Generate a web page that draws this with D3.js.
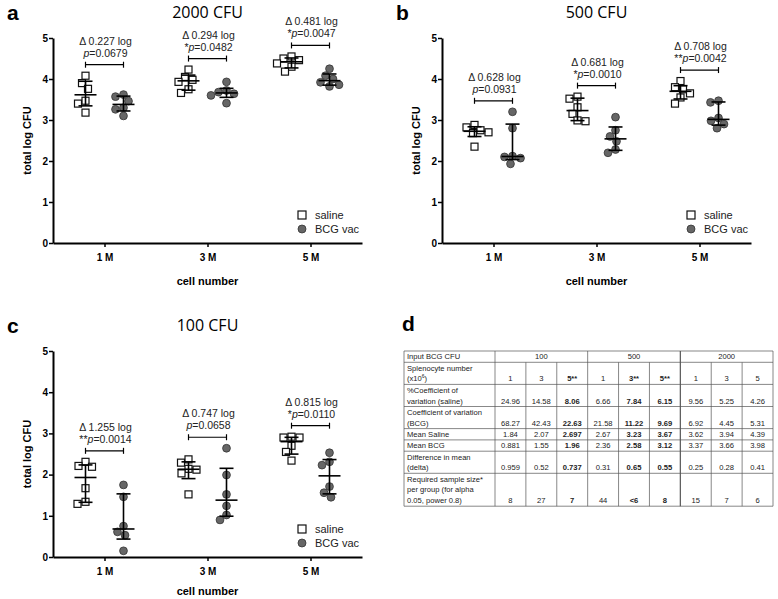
<!DOCTYPE html>
<html>
<head>
<meta charset="utf-8">
<script src="https://cdn.jsdelivr.net/npm/d3@7"></script>
<style>
body { margin: 0; background: #fff; }
text { font-family: "Liberation Sans", Arial, sans-serif; }
</style>
</head>
<body>
<svg id="fig" width="778" height="599"></svg>
<script>
// x categories
const cellNumbers = ["1 M", "3 M", "5 M"];

// log CFU per animal, one list per cell number
const saline2000 = [[4.08, 3.90, 3.76, 3.47, 3.40, 3.18], [4.23, 4.05, 3.98, 3.93, 3.75, 3.66], [4.55, 4.50, 4.46, 4.38, 4.30, 4.18]];
const bcg2000    = [[3.62, 3.57, 3.46, 3.30, 3.26, 3.10], [3.93, 3.72, 3.68, 3.64, 3.60, 3.41], [4.25, 4.08, 4.00, 3.92, 3.86, 3.82]];
const delta2000 = ["0.227", "0.294", "0.481"];
const p2000     = ["0.0679", "0.0482", "0.0047"];
const stars2000 = ["", "*", "*"];

const saline500 = [[2.88, 2.82, 2.75, 2.70, 2.68, 2.35], [3.57, 3.52, 3.31, 3.15, 2.99, 2.97], [3.95, 3.80, 3.75, 3.65, 3.55, 3.40]];
const bcg500    = [[3.20, 2.80, 2.12, 2.10, 2.07, 1.93], [3.07, 2.75, 2.60, 2.48, 2.28, 2.20], [3.47, 3.43, 3.05, 2.98, 2.90, 2.80]];
const delta500 = ["0.628", "0.681", "0.708"];
const p500     = ["0.0931", "0.0010", "0.0042"];
const stars500 = ["", "*", "**"];

const saline100 = [[2.31, 2.21, 2.19, 1.67, 1.34, 1.29], [2.37, 2.29, 2.14, 2.12, 2.03, 1.52], [2.92, 2.90, 2.90, 2.70, 2.55, 2.34]];
const bcg100    = [[1.75, 1.46, 0.75, 0.61, 0.53, 0.15], [2.64, 1.99, 1.52, 1.24, 1.02, 0.90], [2.53, 2.31, 2.23, 1.71, 1.56, 1.45]];
const delta100 = ["1.255", "0.747", "0.815"];
const p100     = ["0.0014", "0.0658", "0.0110"];
const stars100 = ["**", "", "*"];

const yTicks = [0, 1, 2, 3, 4, 5];

// table d
const cfuHeader = ["100", "500", "2000"];
const rowLabels = [
  ["Input BCG CFU"],
  ["Splenocyte number", "(x10^6)"],
  ["%Coefficient of", "variation  (saline)"],
  ["Coefficient of variation", "(BCG)"],
  ["Mean Saline"],
  ["Mean BCG"],
  ["Difference in mean", "(delta)"],
  ["Required sample size*", "per group (for alpha", "0.05, power 0.8)"]
];
const splenocytes = ["1", "3", "5**", "1", "3**", "5**", "1", "3", "5"];
const cvSaline    = ["24.96", "14.58", "8.06", "6.66", "7.84", "6.15", "9.56", "5.25", "4.26"];
const cvBcg       = ["68.27", "42.43", "22.63", "21.58", "11.22", "9.69", "6.92", "4.45", "5.31"];
const meanSaline  = ["1.84", "2.07", "2.697", "2.67", "3.23", "3.67", "3.62", "3.94", "4.39"];
const meanBcg     = ["0.881", "1.55", "1.96", "2.36", "2.58", "3.12", "3.37", "3.66", "3.98"];
const deltaMean   = ["0.959", "0.52", "0.737", "0.31", "0.65", "0.55", "0.25", "0.28", "0.41"];
const sampleSize  = ["8", "27", "7", "44", "<6", "8", "15", "7", "6"];
const boldCols = [2, 4, 5];

const svg = d3.select("#fig");

// quartile like Prism does it, (n+1)p
function quart(vals, p) {
  const s = vals.slice().sort(d3.ascending), n = s.length;
  const h = (n + 1) * p, lo = Math.floor(h), f = h - lo;
  if (lo < 1) return s[0];
  if (lo >= n) return s[n - 1];
  return s[lo - 1] + f * (s[lo] - s[lo - 1]);
}

// little beeswarm so markers don't sit on each other
function swarm(vals, y, cx, d) {
  const placed = [];
  vals.slice().sort(d3.descending).forEach(v => {
    const py = y(v);
    let off = 0;
    for (let k = 0; k < 80; k++) {
      const o = k === 0 ? 0 : (k % 2 ? -1 : 1) * Math.ceil(k / 2) * 0.5;
      const ok = placed.every(p => (o - p.o) ** 2 + (py - p.py) ** 2 >= d * d);
      if (ok) { off = o; break; }
    }
    placed.push({v: v, o: off, py: py, px: cx + off});
  });
  return placed;
}

function drawPanel(cfg) {
  const g = svg.append("g");
  const x = d3.scalePoint().domain(cellNumbers).range([cfg.x0, cfg.x1]).padding(0.5);
  const y = d3.scaleLinear().domain([0, 5]).range([cfg.yBottom, cfg.yTop]);
  const shift = 19;

  // letter + title
  g.append("text").attr("x", cfg.x0 - 46).attr("y", cfg.yTop - 18)
    .attr("font-size", 21).attr("font-weight", "bold").text(cfg.letter);
  g.append("text").attr("x", (cfg.x0 + cfg.x1) / 2).attr("y", cfg.yTop - 20)
    .attr("text-anchor", "middle").attr("font-size", 16)
    .style("font-family", "'Open Sans', sans-serif").text(cfg.title);

  cellNumbers.forEach((c, i) => {
    const sets = [
      {vals: cfg.saline[i], cx: x(c) - shift, kind: "sq"},
      {vals: cfg.bcg[i], cx: x(c) + shift, kind: "ci"}
    ];
    sets.forEach(s => {
      const pts = swarm(s.vals, y, s.cx, 8);
      if (s.kind === "sq") {
        g.selectAll(null).data(pts).enter().append("rect")
          .attr("x", d => d.px - 3.5).attr("y", d => d.py - 3.5)
          .attr("width", 7).attr("height", 7)
          .attr("fill", "#fff").attr("stroke", "#111").attr("stroke-width", 1.2);
      } else {
        g.selectAll(null).data(pts).enter().append("circle")
          .attr("cx", d => d.px).attr("cy", d => d.py).attr("r", 3.9)
          .attr("fill", "#666").attr("stroke", "#333").attr("stroke-width", 0.8);
      }
      // median with interquartile range
      const med = quart(s.vals, 0.5), q1 = quart(s.vals, 0.25), q3 = quart(s.vals, 0.75);
      const eb = g.append("g").attr("stroke", "#000").attr("stroke-width", 1.6);
      eb.append("line").attr("x1", s.cx).attr("x2", s.cx).attr("y1", y(q1)).attr("y2", y(q3));
      eb.append("line").attr("x1", s.cx - 7).attr("x2", s.cx + 7).attr("y1", y(q1)).attr("y2", y(q1));
      eb.append("line").attr("x1", s.cx - 7).attr("x2", s.cx + 7).attr("y1", y(q3)).attr("y2", y(q3));
      eb.append("line").attr("x1", s.cx - 11).attr("x2", s.cx + 11).attr("y1", y(med)).attr("y2", y(med));
    });

    // comparison bracket and text
    const top = d3.max(cfg.saline[i].concat(cfg.bcg[i]));
    const by = y(top) - 11;
    const br = g.append("g").attr("stroke", "#000").attr("stroke-width", 1.2);
    br.append("line").attr("x1", x(c) - shift).attr("x2", x(c) + shift).attr("y1", by).attr("y2", by);
    br.append("line").attr("x1", x(c) - shift).attr("x2", x(c) - shift).attr("y1", by - 3).attr("y2", by + 3);
    br.append("line").attr("x1", x(c) + shift).attr("x2", x(c) + shift).attr("y1", by - 3).attr("y2", by + 3);
    g.append("text").attr("x", x(c) + 1).attr("y", by - 20).attr("text-anchor", "middle")
      .attr("font-size", 10.5).attr("fill", "#222").text("\u0394 " + cfg.delta[i] + " log");
    const pt = g.append("text").attr("x", x(c) + 1).attr("y", by - 8).attr("text-anchor", "middle")
      .attr("font-size", 10.5).attr("fill", "#222");
    pt.append("tspan").text(cfg.stars[i]);
    pt.append("tspan").attr("font-style", "italic").text("p");
    pt.append("tspan").text("=" + cfg.p[i]);
  });

  // axes
  const ya = g.append("g").attr("transform", `translate(${cfg.x0},0)`)
    .call(d3.axisLeft(y).tickValues(yTicks).tickFormat(d3.format("d")).tickSize(4).tickSizeOuter(0));
  const xa = g.append("g").attr("transform", `translate(0,${cfg.yBottom})`)
    .call(d3.axisBottom(x).tickSize(4).tickSizeOuter(0).tickPadding(5));
  [ya, xa].forEach(a => {
    a.select(".domain").attr("stroke", "#000").attr("stroke-width", 2);
    a.selectAll(".tick line").attr("stroke", "#000").attr("stroke-width", 1.5);
    a.selectAll(".tick text").attr("font-size", 10).attr("font-weight", "bold").attr("fill", "#000")
      .style("font-family", "'Liberation Sans', Arial, sans-serif");
  });
  ya.selectAll(".tick text").attr("dx", 2);
  xa.selectAll(".tick text").attr("dy", "0.9em");

  g.append("text")
    .attr("transform", `translate(${cfg.x0 - 22},${(cfg.yTop + cfg.yBottom) / 2}) rotate(-90)`)
    .attr("text-anchor", "middle").attr("font-size", 11).attr("font-weight", "bold").text("total log CFU");
  g.append("text").attr("x", (cfg.x0 + cfg.x1) / 2).attr("y", Math.min(cfg.yBottom + 42, 595))
    .attr("text-anchor", "middle").attr("font-size", 11).attr("font-weight", "bold").text("cell number");

  // legend
  const lx = cfg.x1 - 60, ly = cfg.yBottom - 28;
  g.append("rect").attr("x", lx - 4).attr("y", ly - 4).attr("width", 8).attr("height", 8)
    .attr("fill", "#fff").attr("stroke", "#111").attr("stroke-width", 1.2);
  g.append("circle").attr("cx", lx).attr("cy", ly + 14).attr("r", 4)
    .attr("fill", "#666").attr("stroke", "#333").attr("stroke-width", 0.8);
  g.append("text").attr("x", lx + 13).attr("y", ly + 4).attr("font-size", 11).attr("fill", "#222").text("saline");
  g.append("text").attr("x", lx + 13).attr("y", ly + 18).attr("font-size", 11).attr("fill", "#222").text("BCG vac");
}

drawPanel({letter: "a", title: "2000 CFU", x0: 53, x1: 362, yTop: 38, yBottom: 243,
  saline: saline2000, bcg: bcg2000, delta: delta2000, p: p2000, stars: stars2000});
drawPanel({letter: "b", title: "500 CFU", x0: 442, x1: 751, yTop: 38, yBottom: 243,
  saline: saline500, bcg: bcg500, delta: delta500, p: p500, stars: stars500});
drawPanel({letter: "c", title: "100 CFU", x0: 53, x1: 362, yTop: 351, yBottom: 557,
  saline: saline100, bcg: bcg100, delta: delta100, p: p100, stars: stars100});

// ---- panel d: table ----
svg.append("text").attr("x", 402).attr("y", 331).attr("font-size", 21).attr("font-weight", "bold").text("d");

const tbl = svg.append("g");
const tLeft = 404, tLabelW = 91, tRight = 773, tTop = 351, lineH = 10.8;
const col = d3.scaleBand().domain(d3.range(9)).range([tLeft + tLabelW, tRight]);
const rows = [null, splenocytes, cvSaline, cvBcg, meanSaline, meanBcg, deltaMean, sampleSize];
const rowH = rowLabels.map(l => l.length * lineH + 0.5);
const rowTop = rowH.map((h, i) => tTop + d3.sum(rowH.slice(0, i)));
const tBottom = tTop + d3.sum(rowH);
const fs = 7.6;
const lineStyle = s => s.attr("stroke", "#555").attr("stroke-width", 0.7);

// horizontal rules
rowTop.concat([tBottom]).forEach(yy => {
  tbl.append("line").attr("x1", tLeft).attr("x2", tRight).attr("y1", yy).attr("y2", yy).call(lineStyle);
});
// outer and label column
[tLeft, tLeft + tLabelW, tRight].forEach(xx => {
  tbl.append("line").attr("x1", xx).attr("x2", xx).attr("y1", tTop).attr("y2", tBottom).call(lineStyle);
});
// header spans
[3, 6].forEach(k => {
  tbl.append("line").attr("x1", col(k)).attr("x2", col(k)).attr("y1", tTop).attr("y2", tBottom)
    .call(lineStyle).attr("stroke-width", k === 6 ? 1.2 : 0.7);
});
// inner column lines below the header
d3.range(1, 9).filter(k => k !== 3 && k !== 6).forEach(k => {
  tbl.append("line").attr("x1", col(k)).attr("x2", col(k)).attr("y1", rowTop[1]).attr("y2", tBottom).call(lineStyle);
});

cfuHeader.forEach((h, i) => {
  tbl.append("text").attr("x", (col(i * 3) + col(i * 3 + 2) + col.bandwidth()) / 2)
    .attr("y", rowTop[0] + lineH - 2.5).attr("text-anchor", "middle").attr("font-size", fs)
    .attr("fill", "#222").text(h);
});

rowLabels.forEach((lines, r) => {
  lines.forEach((ln, j) => {
    const t = tbl.append("text").attr("x", tLeft + 3).attr("y", rowTop[r] + (j + 1) * lineH - 2.5)
      .attr("font-size", fs).attr("fill", "#222");
    if (ln.indexOf("^") >= 0) {
      const parts = ln.split("^");
      t.append("tspan").text(parts[0]);
      t.append("tspan").attr("dy", -3).attr("font-size", 5).text(parts[1].replace(")", ""));
      t.append("tspan").attr("dy", 3).text(")");
    } else {
      t.text(ln);
    }
  });
  if (rows[r]) {
    rows[r].forEach((v, k) => {
      tbl.append("text").attr("x", col(k) + col.bandwidth() / 2)
        .attr("y", rowTop[r] + rowH[r] - 3).attr("text-anchor", "middle")
        .attr("font-size", fs).attr("fill", "#222")
        .attr("font-weight", boldCols.includes(k) ? "bold" : "normal").text(v);
    });
  }
});
</script>
</body>
</html>
